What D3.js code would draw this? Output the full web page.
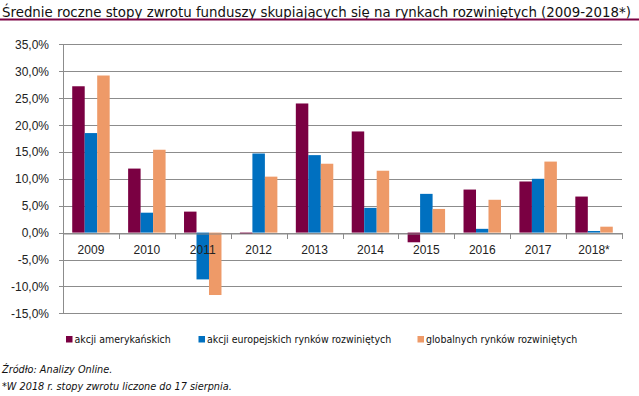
<!DOCTYPE html>
<html>
<head>
<meta charset="utf-8">
<script src="https://cdn.jsdelivr.net/npm/d3@7"></script>
<style>
  body { margin: 0; background: #fff; }
  svg { display: block; }
</style>
</head>
<body>
<div id="chart"></div>
<script>
const years = ["2009", "2010", "2011", "2012", "2013", "2014", "2015", "2016", "2017", "2018*"];
const seriesNames = ["akcji amerykańskich", "akcji europejskich rynków rozwiniętych", "globalnych rynków rozwiniętych"];
const usValues = [27.2, 11.9, 3.9, -0.2, 24.0, 18.8, -1.8, 8.0, 9.5, 6.7];
const euValues = [18.5, 3.7, -8.7, 14.7, 14.4, 4.6, 7.2, 0.7, 10.0, 0.3];
const globalValues = [29.2, 15.4, -11.6, 10.4, 12.8, 11.5, 4.4, 6.1, 13.2, 1.1];
const yTicks = [35, 30, 25, 20, 15, 10, 5, 0, -5, -10, -15];
const colors = ["#7a0042", "#0070c0", "#ee9a68"];

const width = 639, height = 396;
const plotLeft = 63, plotRight = 622, plotTop = 44.3, plotBottom = 313.3;

const svg = d3.select("#chart").append("svg")
    .attr("width", width)
    .attr("height", height);

// title + purple rule under it
svg.append("text")
    .attr("x", 2).attr("y", 16.5)
    .attr("font-family", "DejaVu Sans")
    .attr("font-size", 13.5)
    .attr("textLength", 629)
    .attr("lengthAdjust", "spacingAndGlyphs")
    .attr("fill", "#111")
    .text("Średnie roczne stopy zwrotu funduszy skupiających się na rynkach rozwiniętych (2009-2018*)");

svg.append("line")
    .attr("x1", 0).attr("x2", width)
    .attr("y1", 19.5).attr("y2", 19.5)
    .attr("stroke", "#7a0042")
    .attr("stroke-width", 2);

const x0 = d3.scaleBand().domain(years).range([plotLeft, plotRight]);
const x1 = d3.scaleBand().domain(d3.range(3))
    .range([x0.bandwidth() * 0.165, x0.bandwidth() * 0.835]);
const y = d3.scaleLinear().domain([-15, 35]).range([plotBottom, plotTop]);

// gridlines
svg.append("g")
    .selectAll("line")
    .data(yTicks)
    .enter().append("line")
    .attr("x1", plotLeft - 4).attr("x2", plotRight)
    .attr("y1", d => Math.round(y(d)) + 0.5)
    .attr("y2", d => Math.round(y(d)) + 0.5)
    .attr("stroke", "#8c8c8c")
    .attr("stroke-width", 1);

// y axis labels
svg.append("g")
    .selectAll("text")
    .data(yTicks)
    .enter().append("text")
    .attr("x", 49)
    .attr("y", d => y(d) + 4.5)
    .attr("text-anchor", "end")
    .attr("font-family", "Liberation Sans, Arial")
    .attr("font-size", 12)
    .attr("fill", "#222")
    .text(d => d3.format(".1f")(d).replace(".", ",").replace("−", "-") + "%");

// bars
const seriesValues = [usValues, euValues, globalValues];
const groups = svg.append("g")
    .selectAll("g")
    .data(years)
    .enter().append("g")
    .attr("transform", d => "translate(" + x0(d) + ",0)");

groups.selectAll("rect")
    .data((d, i) => seriesValues.map((vals, s) => ({ s: s, v: vals[i] })))
    .enter().append("rect")
    .attr("x", d => x1(d.s))
    .attr("width", x1.bandwidth())
    .attr("y", d => y(Math.max(0, d.v)))
    .attr("height", d => Math.abs(y(d.v) - y(0)))
    .attr("fill", d => colors[d.s]);

// y axis line
svg.append("line")
    .attr("x1", plotLeft + 0.5).attr("x2", plotLeft + 0.5)
    .attr("y1", plotTop).attr("y2", plotBottom)
    .attr("stroke", "#8c8c8c");

// x axis at zero
const xAxis = g => g
    .attr("transform", "translate(0," + (Math.round(y(0)) + 0.5) + ")")
    .call(d3.axisBottom(x0).tickSize(0).tickPadding(12))
    .call(g => g.select(".domain").attr("stroke", "#8c8c8c"))
    .call(g => g.selectAll("text")
        .attr("font-family", "Liberation Sans, Arial")
        .attr("font-size", 12)
        .attr("fill", "#222"));

svg.append("g").call(xAxis);

svg.append("g")
    .selectAll("line")
    .data(years.concat([null]))
    .enter().append("line")
    .attr("x1", (d, i) => Math.round(plotLeft + i * x0.step()) + 0.5)
    .attr("x2", (d, i) => Math.round(plotLeft + i * x0.step()) + 0.5)
    .attr("y1", Math.round(y(0)))
    .attr("y2", Math.round(y(0)) + 6)
    .attr("stroke", "#8c8c8c");

// legend
const legendX = [66, 198.5, 417.5];
const legend = svg.append("g")
    .selectAll("g")
    .data(seriesNames)
    .enter().append("g")
    .attr("transform", (d, i) => "translate(" + legendX[i] + ",336)");

legend.append("rect")
    .attr("width", 6.5).attr("height", 6.5)
    .attr("fill", (d, i) => colors[i]);

legend.append("text")
    .attr("x", 8.5).attr("y", 6.8)
    .attr("font-family", "DejaVu Sans Condensed")
    .attr("font-size", 10.5)
    .attr("fill", "#111")
    .text(d => d);

// footnotes
const notes = ["Źródło: Analizy Online.", "*W 2018 r. stopy zwrotu liczone do 17 sierpnia."];
svg.append("g")
    .selectAll("text")
    .data(notes)
    .enter().append("text")
    .attr("x", 2)
    .attr("y", (d, i) => 373 + i * 17)
    .attr("font-family", "DejaVu Sans Condensed")
    .attr("font-style", "italic")
    .attr("font-size", 10.8)
    .attr("fill", "#111")
    .text(d => d);
</script>
</body>
</html>
